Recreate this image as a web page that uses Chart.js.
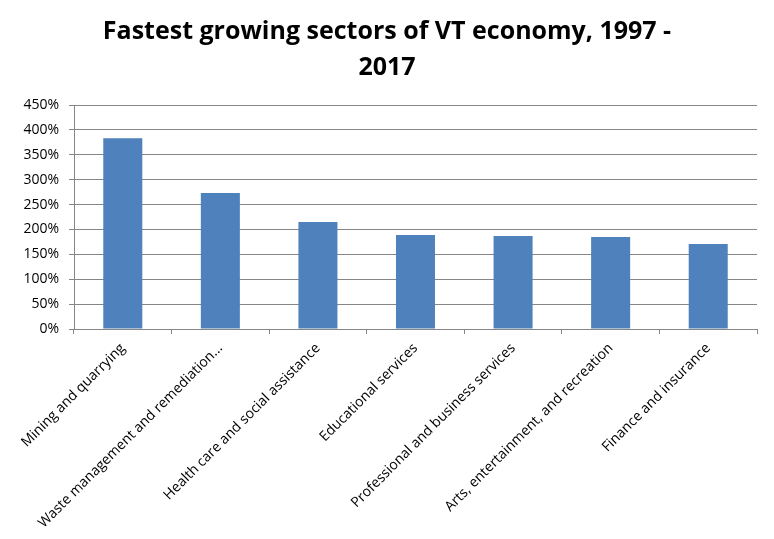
<!DOCTYPE html>
<html lang="en">
<head>
  <meta charset="UTF-8" />
  <title>Fastest growing sectors of VT economy</title>
  <script src="https://cdn.jsdelivr.net/npm/chart.js"></script>
  <style>
    html, body { margin: 0; padding: 0; background: #fff; }
    .chart-box { width: 774px; height: 539px; position: relative; }
  </style>
</head>
<body>
<div class="chart-box"><canvas id="growthChart"></canvas></div>

<script>
const titleLines = ['Fastest growing sectors of VT economy, 1997 -', '2017'];
const sectors = [
  'Mining and quarrying',
  'Waste management and remediation...',
  'Health care and social assistance',
  'Educational services',
  'Professional and business services',
  'Arts, entertainment, and recreation',
  'Finance and insurance'
];
const growthPct = [383, 273, 215, 189, 187, 185, 171];
const yMin = 0, yMax = 450, yStep = 50;

const font = "'Open Sans', Lato, sans-serif";
const gridGray = '#868686';

new Chart(document.getElementById('growthChart'), {
  type: 'bar',
  data: {
    labels: sectors,
    datasets: [{
      label: 'Growth',
      data: growthPct,
      backgroundColor: '#4f81bd',
      barPercentage: 0.4,
      categoryPercentage: 1.0
    }]
  },
  options: {
    responsive: true,
    maintainAspectRatio: false,
    animation: false,
    // equal side padding keeps the title centred on the page
    layout: { padding: { left: 17, right: 17, top: 0, bottom: 0 } },
    plugins: {
      legend: { display: false },
      tooltip: { enabled: false },
      title: {
        display: true,
        text: titleLines,
        color: '#000',
        font: { family: font, size: 25, weight: 'bold', lineHeight: 1.44 },
        padding: { top: 14, bottom: 19 }
      }
    },
    scales: {
      x: {
        grid: { display: true, drawOnChartArea: false, drawTicks: true, tickLength: 5, offset: true, color: gridGray },
        border: { color: gridGray },
        ticks: {
          color: '#000', maxRotation: 45, minRotation: 45, autoSkip: false, padding: 6,
          font: { family: font, size: 14 }
        },
        afterFit: s => { s.height = 210; }
      },
      y: {
        min: yMin, max: yMax,
        grid: { color: gridGray, tickLength: 5 },
        border: { color: gridGray },
        ticks: {
          stepSize: yStep, color: '#000', padding: 10,
          font: { family: font, size: 14 },
          callback: v => v + '%'
        },
        afterFit: s => { s.width = 57; }
      }
    }
  }
});
</script>
</body>
</html>
